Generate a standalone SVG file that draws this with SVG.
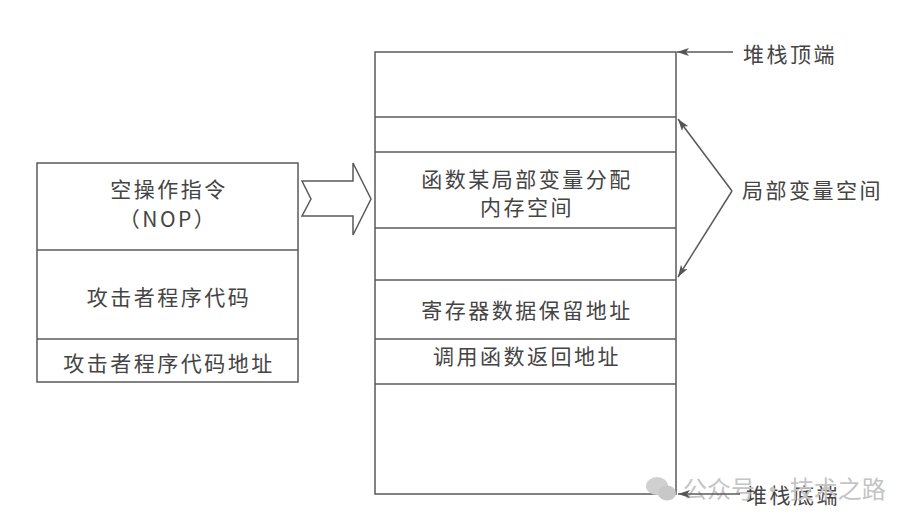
<svg xmlns="http://www.w3.org/2000/svg" width="907" height="526" viewBox="0 0 907 526">
<defs>
<style>
.box{fill:none;stroke:#5a5a5a;stroke-width:1.5}
.ln{stroke:#5a5a5a;stroke-width:1.5;fill:none}
.t{font-family:"Noto Sans CJK SC","Noto Sans",sans-serif;font-size:21px;fill:#444;letter-spacing:2.5px}
.c{text-anchor:middle}
.wm{font-family:"Noto Sans CJK SC","Noto Sans",sans-serif;font-size:24px;fill:#c4c4c4}
</style>
<marker id="ah" viewBox="0 0 12 8" refX="12" refY="4" markerWidth="12" markerHeight="8" markerUnits="userSpaceOnUse" orient="auto">
<path d="M0,0 L12,4 L0,8 L3,4 Z" fill="#555"/>
</marker>
</defs>
<rect width="907" height="526" fill="#fff"/>

<g id="left-stack">
<rect class="box" x="37" y="163" width="261" height="219"/>
<line class="ln" x1="37" y1="250" x2="298" y2="250"/>
<line class="ln" x1="37" y1="339" x2="298" y2="339"/>
<text class="t c" x="169" y="197">空操作指令</text>
<text class="t c" x="168" y="227" letter-spacing="0">（NOP）</text>
<text class="t c" x="169" y="305">攻击者程序代码</text>
<text class="t c" x="169" y="371">攻击者程序代码地址</text>
</g>

<g id="big-arrow">
<polygon class="box" points="302,181 353,181 353,163 371,199 353,235 353,216 302,216 311,199"/>
</g>

<g id="right-stack">
<rect class="box" x="375" y="52" width="301" height="442"/>
<line class="ln" x1="375" y1="117" x2="676" y2="117"/>
<line class="ln" x1="375" y1="152" x2="676" y2="152"/>
<line class="ln" x1="375" y1="228" x2="676" y2="228"/>
<line class="ln" x1="375" y1="280" x2="676" y2="280"/>
<line class="ln" x1="375" y1="339" x2="676" y2="339"/>
<line class="ln" x1="375" y1="384" x2="676" y2="384"/>
<text class="t c" x="527" y="187" font-size="20">函数某局部变量分配</text>
<text class="t c" x="527" y="215" font-size="20">内存空间</text>
<text class="t c" x="527" y="318">寄存器数据保留地址</text>
<text class="t c" x="527" y="364">调用函数返回地址</text>
</g>

<g id="labels">
<text class="t" x="743" y="62">堆栈顶端</text>
<text class="t" x="742" y="198">局部变量空间</text>
<text class="t" x="746" y="503">堆栈底端</text>
</g>

<g id="watermark">
<ellipse cx="657" cy="486" rx="11" ry="9" fill="#d0d0d0"/>
<ellipse cx="667" cy="493" rx="9" ry="7.5" fill="#c8c8c8"/>
<text class="wm" x="683" y="498">公众号 · 技术之路</text>
</g>

<g id="connectors">
<line class="ln" x1="733" y1="52" x2="677" y2="52" marker-end="url(#ah)"/>
<line class="ln" x1="740" y1="494" x2="678" y2="494" marker-end="url(#ah)"/>
<line class="ln" x1="732" y1="191" x2="678" y2="119" marker-end="url(#ah)"/>
<line class="ln" x1="732" y1="191" x2="678" y2="277" marker-end="url(#ah)"/>
</g>
</svg>
